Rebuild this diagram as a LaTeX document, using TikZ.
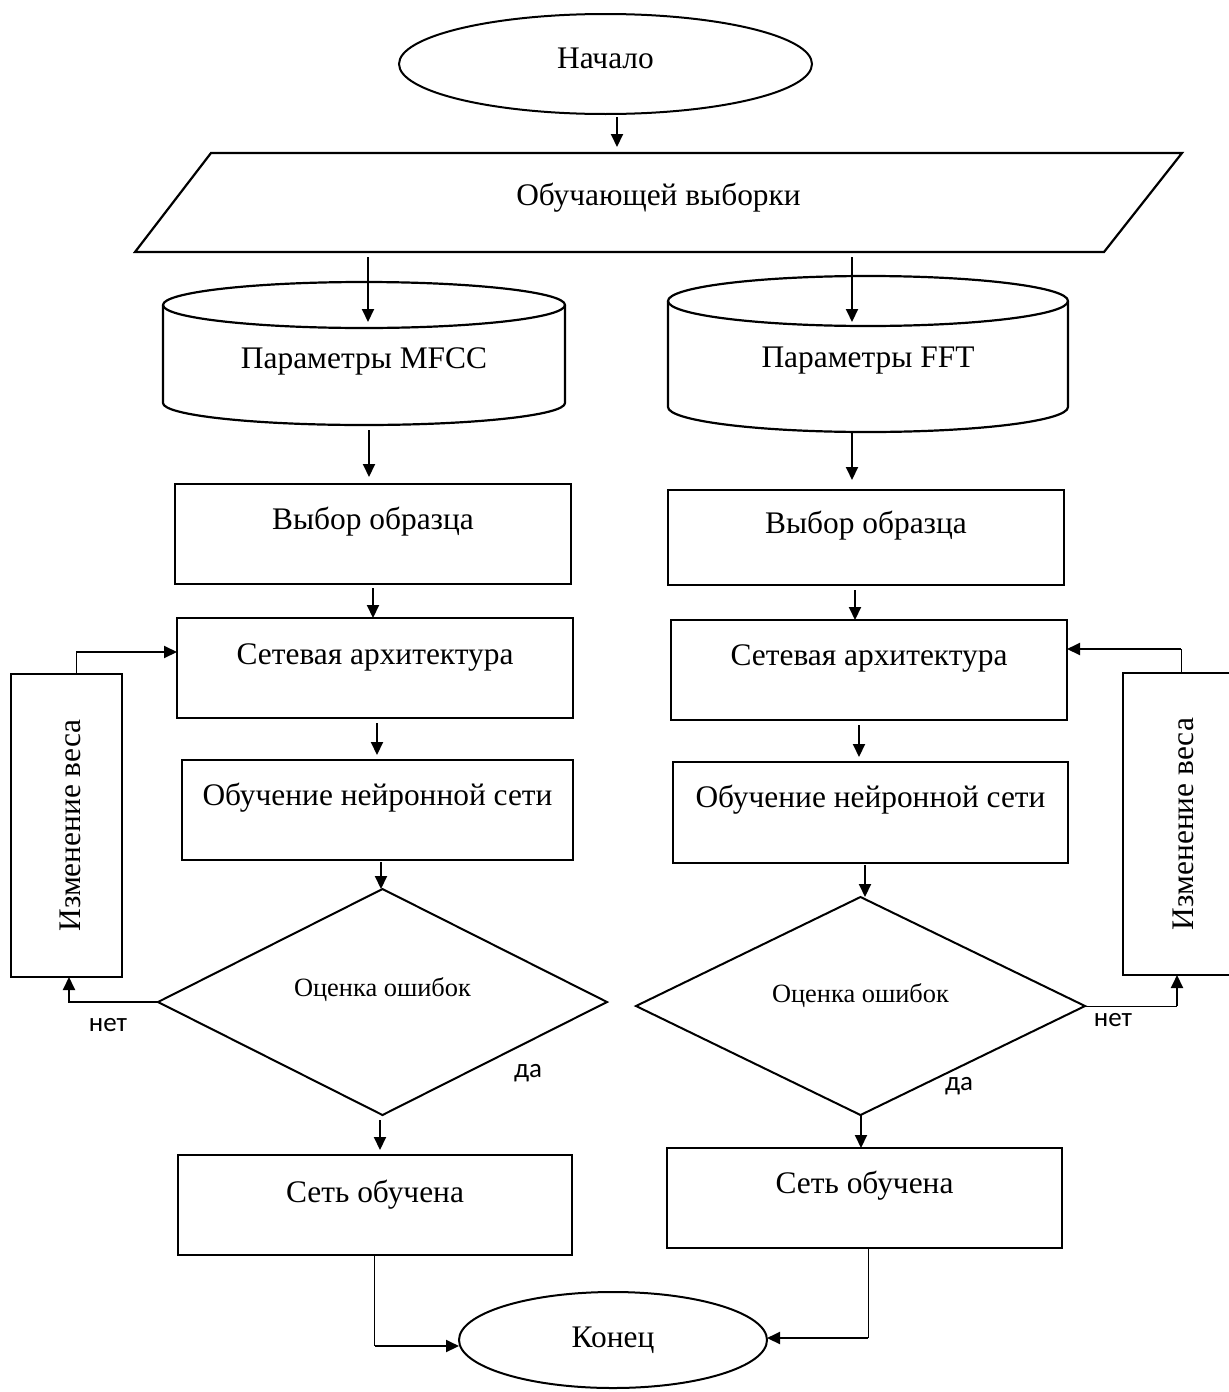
\documentclass[tikz,border=0pt]{standalone}
\usepackage{fontspec}
\setmainfont{Liberation Serif}
\newfontfamily\lblfont{Carlito}
\usetikzlibrary{shapes.geometric,arrows.meta}
% text placed with its baseline #1 above the node centre
\newcommand\lift[2]{\raisebox{#1}[0pt][0pt]{#2}}

\begin{document}
\begin{tikzpicture}[x=0.5pt,y=-0.5pt,
  every node/.style={inner sep=0pt, outer sep=0pt},
  maintext/.style={font=\fontsize{15.7}{18}\selectfont},
  boxnode/.style={maintext, draw, rectangle, line width=1.2pt},
  termnode/.style={maintext, draw, ellipse, line width=1pt},
  decnode/.style={draw, diamond, line width=1pt, font=\fontsize{13.2}{15}\selectfont},
  plain/.style={maintext},
  outline/.style={line width=1.1pt, line join=miter},
  arr/.style={line width=1pt, -{Triangle[length=6.5pt,width=6pt]}},
  thinline/.style={line width=0.5pt},
  lbl/.style={font=\lblfont\fontsize{13.5}{16}\selectfont}
]
\useasboundingbox (0,0) rectangle (1229,1392);
\clip (0,0) rectangle (1229,1392);
\fill[white] (0,0) rectangle (1229,1392);

% --- terminals and data ---
\node[termnode, minimum width=206.5pt, minimum height=50pt] (start) at (605.5,64) {\lift{-2pt}{Начало}};
\node[plain, minimum width=523.5pt, minimum height=49.5pt] (data) at (658.5,202.5) {\lift{-1.25pt}{Обучающей выборки}};
\draw[outline] ([shift={(76,0)}]data.north west) -- (data.north east)
  -- ([shift={(-78,0)}]data.south east) -- (data.south west) -- cycle;

% --- parameter stores (cylinders) ---
\node[plain, minimum width=201pt, minimum height=49pt] (cylL) at (364,354) {\lift{-7pt}{Параметры MFCC}};
\draw[outline] (cylL.north west) -- (cylL.south west)
  arc[start angle=180, end angle=360, x radius=100.5pt, y radius=11pt] -- (cylL.north east);
\draw[outline] (cylL.north) ellipse [x radius=100.5pt, y radius=11.5pt];

\node[plain, minimum width=200pt, minimum height=53pt] (cylR) at (868,354) {\lift{-6.5pt}{Параметры FFT}};
\draw[outline] (cylR.north west) -- (cylR.south west)
  arc[start angle=180, end angle=360, x radius=100pt, y radius=12.5pt] -- (cylR.north east);
\draw[outline] (cylR.north) ellipse [x radius=100pt, y radius=12.5pt];

% --- process boxes ---
\node[boxnode, minimum width=198pt, minimum height=50pt] (selL) at (373,534) {\lift{2.5pt}{Выбор образца}};
\node[boxnode, minimum width=198pt, minimum height=47.5pt] (selR) at (866,537.5) {\lift{2.25pt}{Выбор образца}};
\node[boxnode, minimum width=198pt, minimum height=50pt] (archL) at (375,668) {\lift{2pt}{Сетевая архитектура}};
\node[boxnode, minimum width=198pt, minimum height=50pt] (archR) at (869,670) {\lift{2.5pt}{Сетевая архитектура}};
\node[boxnode, minimum width=195.5pt, minimum height=50pt] (trainL) at (377.5,810) {\lift{2.5pt}{Обучение нейронной сети}};
\node[boxnode, minimum width=197.5pt, minimum height=50.5pt] (trainR) at (870.5,812.5) {\lift{2.75pt}{Обучение нейронной сети}};
\node[decnode, minimum width=224.5pt, minimum height=113pt] (decL) at (382.5,1002) {\lift{3pt}{Оценка ошибок}};
\node[decnode, minimum width=224.5pt, minimum height=109pt] (decR) at (860.5,1006) {\lift{2pt}{Оценка ошибок}};
\node[boxnode, minimum width=197pt, minimum height=50pt] (doneL) at (375,1205) {\lift{1.5pt}{Сеть обучена}};
\node[boxnode, minimum width=197.5pt, minimum height=50pt] (doneR) at (864.5,1198) {\lift{2.5pt}{Сеть обучена}};
\node[termnode, minimum width=154pt, minimum height=48pt] (endN) at (613,1340) {\lift{-3.5pt}{Конец}};

% --- weight update boxes ---
\node[boxnode, minimum width=55.5pt, minimum height=151.5pt] (wL) at (66.5,825.5) {\rotatebox{90}{\lift{-6.75pt}{Изменение веса}}};
\node[boxnode, minimum width=58.5pt, minimum height=151pt] (wR) at (1181.5,824) {\rotatebox{90}{\lift{-5.75pt}{Изменение веса}}};

% --- main flow ---
\draw[arr] ([shift={(11.5,3)}]start.south) -- ([shift={(-41.5,-6)}]data.north);
\draw[arr] ([shift={(-290.5,5)}]data.south) -- ([shift={(4,17)}]cylL.north);
\draw[arr] ([shift={(193.5,5)}]data.south) -- ([shift={(-16,21)}]cylR.north);
\draw[arr] ([shift={(5,27)}]cylL.south) -- ([shift={(-4,-7)}]selL.north);
\draw[arr] ([shift={(-16,26)}]cylR.south) -- ([shift={(-14,-10)}]selR.north);
\draw[arr] ([shift={(0,4)}]selL.south) -- ([shift={(-2,0)}]archL.north);
\draw[arr] ([shift={(-11,5)}]selR.south) -- ([shift={(-14,0)}]archR.north);
\draw[arr] ([shift={(2,5)}]archL.south) -- ([shift={(-0.5,-5)}]trainL.north);
\draw[arr] ([shift={(-10,5)}]archR.south) -- ([shift={(-11.5,-5)}]trainR.north);
\draw[arr] ([shift={(3.5,2)}]trainL.south) -- ([shift={(-1.5,0)}]decL.north);
\draw[arr] ([shift={(-5.5,2)}]trainR.south) -- ([shift={(4.5,0)}]decR.north);
\draw[arr] ([shift={(-2.5,5)}]decL.south) -- ([shift={(5,-5)}]doneL.north);
\draw[arr] ([shift={(0.5,0)}]decR.south) -- ([shift={(-3.5,0)}]doneR.north);

% --- to the end terminal ---
\draw[thinline] ([shift={(-0.5,0)}]doneL.south) -- ([shift={(-0.5,91)}]doneL.south) coordinate (kL);
\draw[arr] (kL) -- (kL -| endN.west);
\draw[thinline] ([shift={(3.5,0)}]doneR.south) -- ([shift={(3.5,90)}]doneR.south) coordinate (kR);
\draw[arr] (kR) -- (kR -| endN.east);

% --- left feedback loop ---
\draw[arr] (decL.west) -| ([shift={(2.5,0)}]wL.south);
\draw[thinline] ([shift={(9.5,0)}]wL.north) -- ([shift={(9.5,-22)}]wL.north) coordinate (tL);
\draw[arr] (tL) -- (tL -| archL.west);

% --- right feedback loop ---
\path (wR.south) ++(-4.5,0) coordinate (wRin);
\draw[thinline] (decR.east) -- (decR.east -| wRin) coordinate (rR);
\draw[arr] (rR) -- (wRin);
\path (wR.north) ++(-0.5,0) coordinate (wRtop);
\draw[thinline] (wRtop) -- ++(0,-24) coordinate (tR);
\draw[arr] (tR) -- (tR -| archR.east);

% --- branch labels ---
\node[lbl] (noL) at (108,1025) {нет};
\node[lbl] (noR) at (1113,1020) {нет};
\node[lbl] (yesL) at (528,1073) {да};
\node[lbl] (yesR) at (959,1086) {да};
\end{tikzpicture}
\end{document}
